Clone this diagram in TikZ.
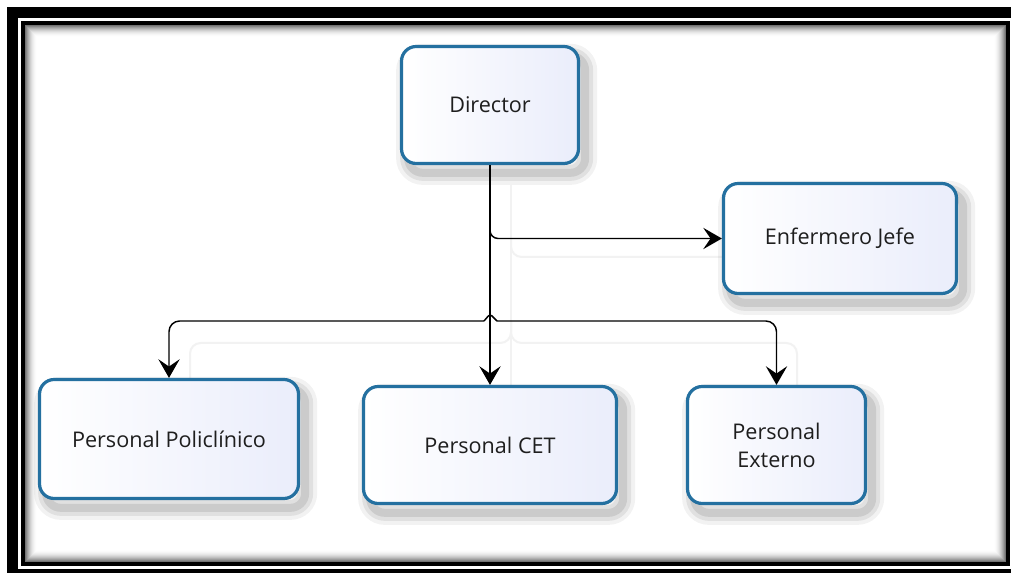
\documentclass[tikz,border=0pt]{standalone}
\usepackage{fontspec}
\setmainfont{Open Sans}
\usetikzlibrary{arrows.meta,calc}
\definecolor{boxblue}{RGB}{36,112,160}
\definecolor{boxfill}{RGB}{234,237,251}
\definecolor{ghost}{RGB}{242,242,242}
\definecolor{txt}{RGB}{30,30,30}
\tikzset{
  orgbox/.style={rounded corners=11pt, draw=boxblue, line width=2.4pt,
    left color=white, right color=boxfill, text=txt,
    font=\fontsize{16.2}{21}\selectfont, align=center, inner sep=0pt,
    preaction={draw=black, draw opacity=0.05, line width=18pt, transform canvas={shift={(5pt,-7pt)}}},
    preaction={draw=black, draw opacity=0.07, line width=12pt, transform canvas={shift={(5pt,-7pt)}}},
    preaction={draw=black, draw opacity=0.09, line width=6pt, transform canvas={shift={(5pt,-7pt)}}}},
  conn/.style={draw=black, line width=1.1pt},
  arr/.style={conn, -{Stealth[length=14pt,width=16pt,inset=5.5pt]}},
  ghostline/.style={draw=ghost, line width=1.5pt}
}
\begin{document}
\begin{tikzpicture}[x=0.75pt, y=-0.75pt]
\useasboundingbox (0,0) rectangle (1011,573);
% frame
\fill[black] (7,7) rectangle (1011,573);
\fill[white] (18,18) rectangle (1011,569);
\fill[black] (21,21) rectangle (1010,566);
\fill[white] (25,25) rectangle (1006,562);
\foreach \i in {0,...,11}{
  \pgfmathsetmacro{\op}{0.55*(1-\i/12)*(1-\i/12)}
  \draw[black, draw opacity=\op, line width=0.75pt] (25.5+\i,25.5+\i) rectangle (1005.5-\i,561.5-\i);
}
% ghost (shadow) connectors
\draw[ghostline] (511,185) -- (511,388);
\draw[ghostline, rounded corners=8] (511,238) |- (722,257);
\draw[ghostline, rounded corners=8] (511,322) |- (190,343) -- (190,378);
\draw[ghostline, rounded corners=8] (511,322) |- (797,343) -- (797,385);
% boxes
\node[orgbox, minimum width=132.75pt, minimum height=87.75pt] (dir) at (490,105) {Director};
\node[orgbox, minimum width=174.75pt, minimum height=82.5pt] (enf) at (840,238.5) {Enfermero Jefe};
\node[orgbox, minimum width=194.25pt, minimum height=89.25pt] (pol) at (169,439) {Personal Policlínico};
\node[orgbox, minimum width=189.75pt, minimum height=87.75pt] (cet) at (490,445) {Personal CET};
\node[orgbox, minimum width=133.5pt, minimum height=87.75pt] (ext) at (776.5,445) {Personal\\Externo};
% connectors
\coordinate (hopL) at (484,321);
\coordinate (hopT) at (490,314);
\coordinate (hopR) at (497,321);
\draw[arr] (dir.south) -- (cet.north);
\draw[arr, rounded corners=6] (dir.south) |- (enf.west);
\draw[arr, rounded corners=8] (hopL) -| (pol.north);
\draw[arr, rounded corners=8] (hopR) -| (ext.north);
\draw[conn, rounded corners=2] (hopL) -- (hopT) -- (hopR);
\end{tikzpicture}
\end{document}
